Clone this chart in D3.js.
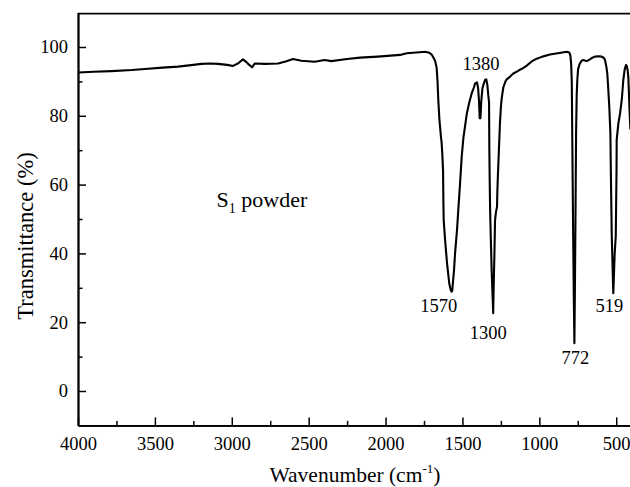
<!DOCTYPE html>
<html>
<head>
<meta charset="utf-8">
<script src="https://cdn.jsdelivr.net/npm/d3@7"></script>
<style>
  html, body { margin: 0; padding: 0; background: #fff; }
  svg { display: block; }
  text { font-family: "Liberation Serif", "Times New Roman", serif; fill: #000; }
</style>
</head>
<body>
<svg id="chart" width="630" height="487"></svg>
<script>
// FTIR spectrum of the S1 powder: wavenumber (cm-1) vs transmittance (%)
const wavenumber = [
  4000, 3900, 3783, 3650, 3566, 3450, 3350, 3250, 3198, 3140, 3090, 3030, 2992, 2960,
  2927, 2905, 2894, 2868, 2851, 2786, 2699, 2650, 2602, 2548, 2461, 2396, 2353, 2250,
  2166, 2050, 1906, 1862, 1800, 1743, 1715, 1700, 1690, 1678, 1668, 1662, 1657, 1650,
  1640, 1635, 1630, 1626, 1624, 1622, 1613, 1600, 1590, 1585, 1575, 1570, 1566, 1562,
  1555, 1548, 1535, 1525, 1516, 1505, 1494, 1483, 1472, 1455, 1440, 1425, 1418, 1405,
  1398, 1392, 1388, 1383, 1378, 1370, 1360, 1353, 1345, 1338, 1332, 1327, 1325, 1323,
  1320, 1316, 1310, 1300, 1297, 1292, 1288, 1282, 1275, 1273, 1270, 1263, 1256, 1250,
  1245, 1234, 1220, 1212, 1190, 1169, 1140, 1126, 1100, 1082, 1050, 1017, 980, 931,
  880, 822, 805, 798, 793, 789, 785, 780, 776, 772, 769, 765, 761, 757, 753, 748, 740,
  735, 725, 714, 700, 692, 680, 671, 655, 638, 615, 594, 580, 573, 565, 558, 552, 545,
  538, 535, 529, 519, 510, 503, 498, 497, 486, 475, 464, 458, 454, 445, 436, 430, 425,
  421, 416, 412, 408
];
const transmittance = [
  92.6, 92.8, 93.0, 93.3, 93.6, 94.0, 94.3, 94.8, 95.1, 95.2, 95.1, 94.8, 94.5, 95.2,
  96.4, 95.6, 95.1, 94.1, 95.2, 95.1, 95.2, 95.8, 96.5, 96.0, 95.7, 96.2, 95.9, 96.5,
  96.9, 97.2, 97.7, 98.2, 98.4, 98.6, 98.3, 97.8, 97.0, 96.0, 94.0, 90.0, 84.6, 79.0,
  74.0, 72.0, 68.0, 64.0, 55.0, 49.7, 44.0, 37.0, 33.0, 31.0, 29.2, 28.9, 29.2, 31.5,
  35.0, 40.0, 47.0, 54.0, 60.0, 68.0, 73.5, 77.0, 80.5, 84.0, 86.5, 88.3, 89.4, 89.7,
  88.0, 84.0, 79.3, 79.3, 84.0, 88.0, 89.5, 90.4, 90.6, 89.0, 86.0, 84.0, 70.0, 62.0,
  52.6, 45.0, 35.0, 22.6, 30.0, 40.0, 49.7, 52.0, 53.6, 58.0, 62.0, 70.0, 77.9, 82.5,
  85.0, 88.3, 90.0, 90.6, 91.4, 92.3, 93.0, 93.4, 94.0, 94.6, 95.8, 96.6, 97.2, 97.8,
  98.2, 98.6, 98.4, 97.5, 95.0, 90.0, 70.0, 45.0, 28.0, 13.9, 28.0, 50.0, 75.0, 86.0, 90.4, 93.5, 94.8,
  95.3, 96.0, 96.2, 96.0, 95.9, 96.2, 96.4, 96.9, 97.2, 97.3, 97.2, 96.8, 96.2, 94.5, 92.3, 88.0, 82.6,
  75.0, 64.0, 45.0, 28.4, 40.0, 45.0, 64.0, 73.0, 77.8, 80.7, 84.6, 88.0, 90.4, 93.5, 94.8, 94.3, 93.0,
  91.0, 85.0, 80.0, 76.0
];

// Labelled absorption bands
const bandLabels = ["1570", "1380", "1300", "772", "519"];

// Axis ticks
const xMajorTicks = [4000, 3500, 3000, 2500, 2000, 1500, 1000, 500];
const xMinorTicks = [3750, 3250, 2750, 2250, 1750, 1250, 750];
const yMajorTicks = [0, 20, 40, 60, 80, 100];
const yMinorTicks = [10, 30, 50, 70, 90];

const spectrum = wavenumber.map((w, i) => ({ w, t: transmittance[i] }));

const svg = d3.select("#chart");
const plotLeft = 78, plotRight = 631.6, plotTop = 12.6, plotBottom = 425.4;

const x = d3.scaleLinear().domain([4000, 400]).range([plotLeft, plotRight]);
const y = d3.scaleLinear().domain([-10, 110]).range([plotBottom, plotTop]);

// Spectrum trace
svg.append("path")
  .datum(spectrum)
  .attr("fill", "none")
  .attr("stroke", "#000")
  .attr("stroke-width", 2.1)
  .attr("stroke-linejoin", "round")
  .attr("d", d3.line().x(d => x(d.w)).y(d => y(d.t)));

// Axes with inward ticks
const tickFont = 18.5;
svg.append("g").attr("transform", `translate(0,${plotBottom})`)
  .call(d3.axisBottom(x).tickValues(xMajorTicks).tickFormat(d3.format("d"))
    .tickSizeInner(-8).tickSizeOuter(0).tickPadding(11));
svg.append("g").attr("transform", `translate(0,${plotBottom})`)
  .call(d3.axisBottom(x).tickValues(xMinorTicks).tickFormat("")
    .tickSizeInner(-4.5).tickSizeOuter(0));
svg.append("g").attr("transform", `translate(${plotLeft},0)`)
  .call(d3.axisLeft(y).tickValues(yMajorTicks).tickFormat(d3.format("d"))
    .tickSizeInner(-8).tickSizeOuter(0).tickPadding(10));
svg.append("g").attr("transform", `translate(${plotLeft},0)`)
  .call(d3.axisLeft(y).tickValues(yMinorTicks).tickFormat("")
    .tickSizeInner(-4.5).tickSizeOuter(0));

svg.selectAll(".tick line").attr("stroke", "#000").attr("stroke-width", 1.5);
svg.selectAll(".domain").attr("stroke", "#000").attr("stroke-width", 1.8);
svg.selectAll(".tick text")
  .style("font-family", '"Liberation Serif", "Times New Roman", serif')
  .style("font-size", tickFont + "px")
  .attr("fill", "#000");

// Top frame line
svg.append("line")
  .attr("x1", plotLeft).attr("x2", plotRight)
  .attr("y1", plotTop + 1).attr("y2", plotTop + 1)
  .attr("stroke", "#000").attr("stroke-width", 1.8);

// Band labels, placed against the trace minimum (or above the doublet for 1380)
const bandOffset = {
  "1570": { dx: -13, dy: 20 },
  "1380": { dx: 0, dy: -9 },
  "1300": { dx: -5, dy: 26 },
  "772":  { dx: 1, dy: 21 },
  "519":  { dx: -4, dy: 19 }
};
const bandPoint = label => {
  const w = +label;
  if (label === "1380") {
    const near = spectrum.filter(d => d.w <= 1410 && d.w >= 1340);
    return { w, t: d3.max(near, d => d.t) };
  }
  const near = spectrum.filter(d => Math.abs(d.w - w) <= 6);
  return { w, t: d3.min(near, d => d.t) };
};
svg.append("g").selectAll("text")
  .data(bandLabels)
  .join("text")
  .attr("x", d => x(+d) + bandOffset[d].dx)
  .attr("y", d => y(bandPoint(d).t) + bandOffset[d].dy)
  .attr("text-anchor", "middle")
  .style("font-size", tickFont + "px")
  .text(d => d);

// Sample name
const sample = svg.append("text")
  .attr("x", 216.5).attr("y", 206.5)
  .style("font-size", "22px");
sample.append("tspan").text("S");
sample.append("tspan").attr("dy", 6).style("font-size", "14px").text("1");
sample.append("tspan").attr("dy", -6).text(" powder");

// Axis titles
const xTitle = svg.append("text")
  .attr("x", 269.5).attr("y", 481.5)
  .style("font-size", "21.5px");
xTitle.append("tspan").text("Wavenumber (cm");
xTitle.append("tspan").attr("dy", -9).style("font-size", "13px").text("-1");
xTitle.append("tspan").attr("dy", 9).text(")");

svg.append("text")
  .attr("transform", `translate(32.5,236) rotate(-90)`)
  .attr("text-anchor", "middle")
  .style("font-size", "22.5px")
  .text("Transmittance (%)");
</script>
</body>
</html>
